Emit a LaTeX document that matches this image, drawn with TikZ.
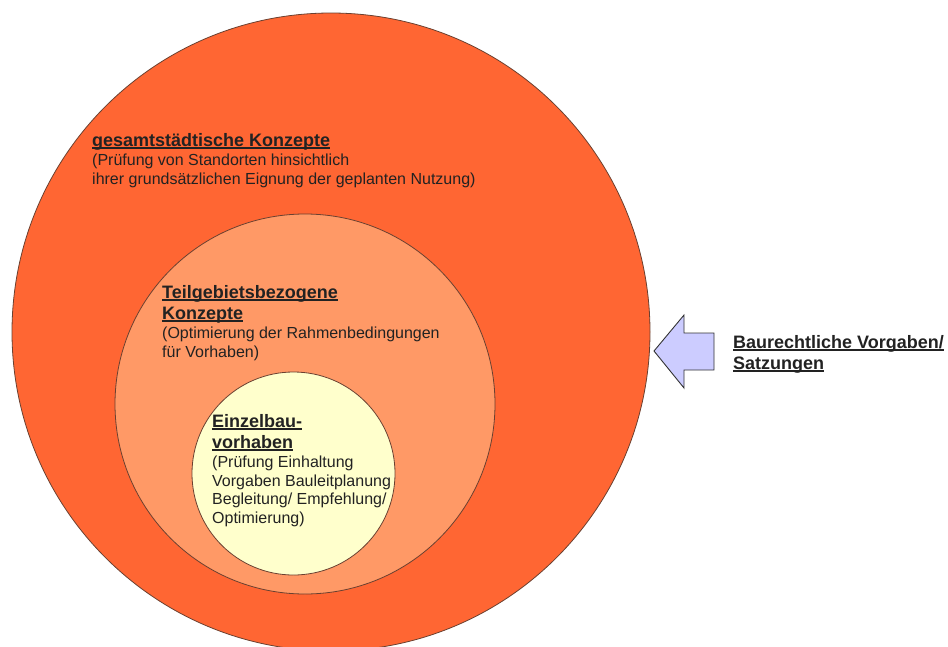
\documentclass[tikz,border=0pt]{standalone}
\usepackage{fontspec}
\setmainfont{Liberation Sans}
\newcommand\myul[1]{\leavevmode\setbox0\hbox{#1}\rlap{\rule[-2.6pt]{\wd0}{1.2pt}}\box0}
\definecolor{outerC}{HTML}{FF6633}
\definecolor{midC}{HTML}{FF9966}
\definecolor{innerC}{HTML}{FFFFCC}
\definecolor{arrC}{HTML}{CCCCFF}
\definecolor{edgeC}{HTML}{6A4030}
\definecolor{txtC}{HTML}{222222}
\tikzset{
  ring/.style={circle, draw=edgeC, line width=0.8pt, inner sep=0pt},
  title/.style={anchor=base west, inner sep=0pt, align=left, text=txtC,
    font=\fontsize{18}{21}\selectfont\bfseries},
  desc/.style={anchor=base west, inner sep=0pt, align=left, text=txtC,
    font=\fontsize{16}{18.5}\selectfont},
}
\begin{document}
\begin{tikzpicture}[x=1pt,y=-1pt]
\useasboundingbox (0,0) rectangle (948,646);
\node[ring, fill=outerC, minimum size=638pt] (outer) at (331,332) {};
\node[ring, fill=midC, minimum size=380pt] (mid) at (305,404) {};
\node[ring, fill=innerC, minimum size=203pt] (inner) at (293.5,473.5) {};

% anchors sit on the baseline of the last line of each block
\node[title] (t1) at (92,146) {\myul{gesamtstädtische Konzepte}};
\node[desc] (d1) at (92,184) {(Prüfung von Standorten hinsichtlich\\ihrer grundsätzlichen Eignung der geplanten Nutzung)};

\node[title] (t2) at (162,319) {\myul{Teilgebietsbezogene}\\\myul{Konzepte}};
\node[desc] (d2) at (162,357) {(Optimierung der Rahmenbedingungen\\für Vorhaben)};

\node[title] (t3) at (212,448) {\myul{Einzelbau-}\\\myul{vorhaben}};
\node[desc] (d3) at (212,523) {(Prüfung Einhaltung\\Vorgaben Bauleitplanung\\Begleitung/ Empfehlung/\\Optimierung)};

\draw[draw=black!80, line width=0.9pt, fill=arrC, line join=miter]
  (654,351) -- (684,315) -- (684,333) -- (714,333) -- (714,370) -- (684,370) -- (684,388) -- cycle;
\node[title] (t4) at (733,369) {\myul{Baurechtliche Vorgaben/}\\\myul{Satzungen}};
\end{tikzpicture}
\end{document}
